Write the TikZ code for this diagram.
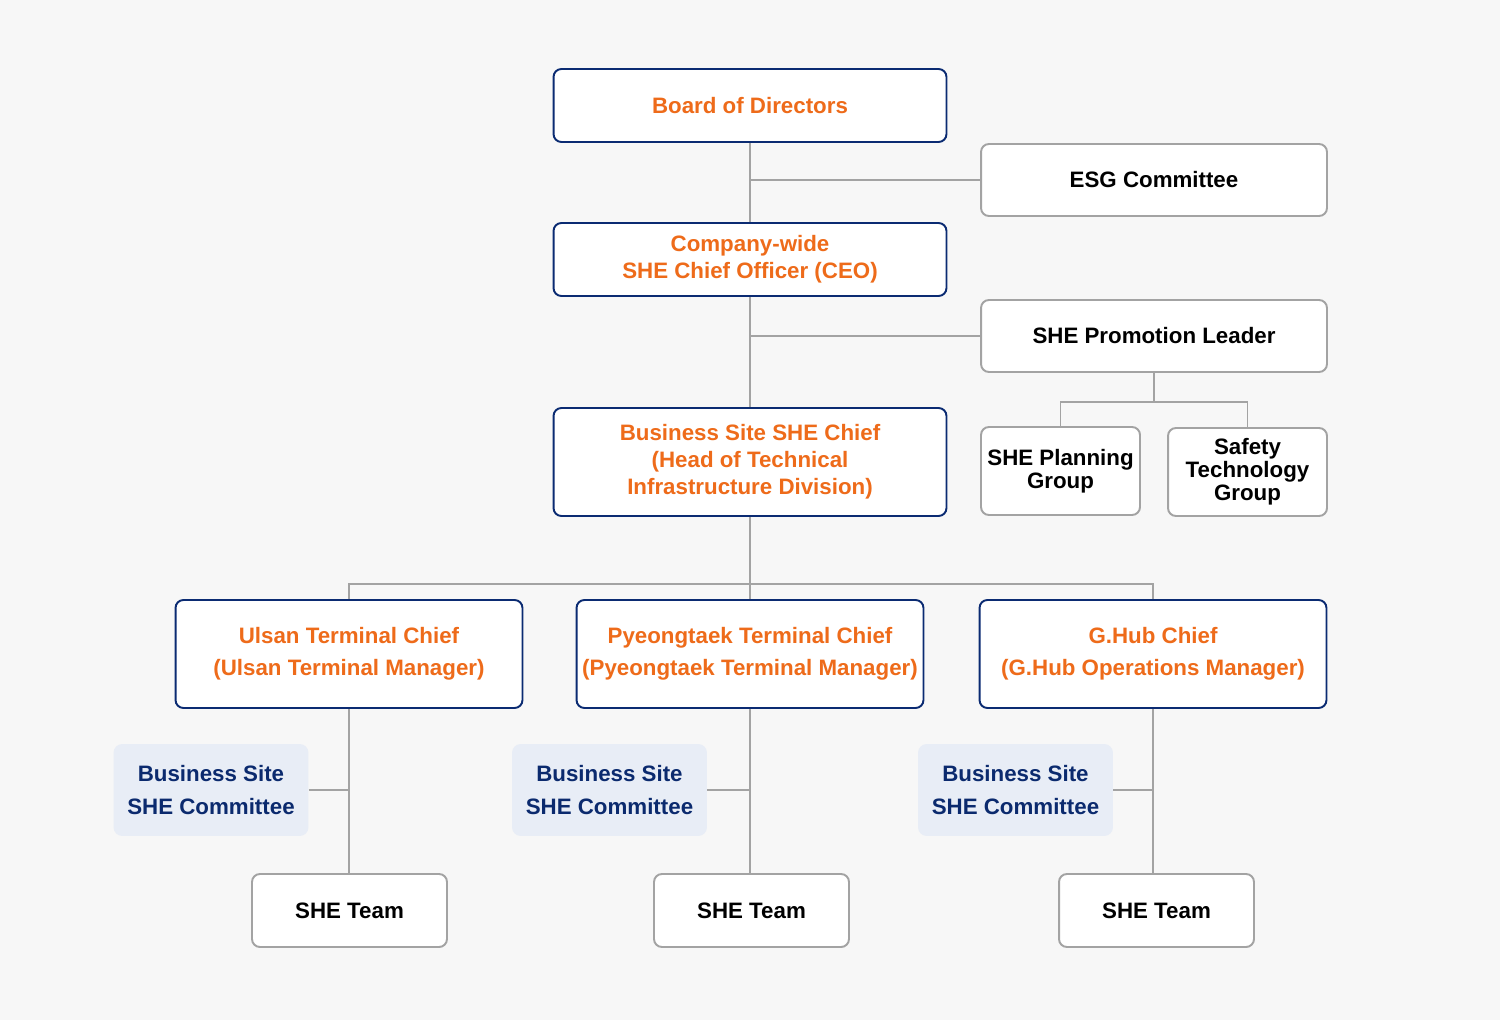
\documentclass[tikz,border=0pt]{standalone}
\usepackage{fontspec}
\setmainfont{Liberation Sans}
\usepackage{tikz}
\usetikzlibrary{positioning}

\definecolor{bgcol}{HTML}{F7F7F7}
\definecolor{navyline}{HTML}{0B2B72}
\definecolor{orangetxt}{HTML}{EE6B1A}
\definecolor{grayline}{HTML}{A3A3A3}
\definecolor{commfill}{HTML}{E8EDF6}
\definecolor{navytxt}{HTML}{0B2A6E}

\begin{document}
\begin{tikzpicture}[
    x=0.02cm, y=-0.02cm,
    chiefbox/.style={draw=navyline, line width=1.1pt, rounded corners=4.5pt, fill=white, text=orangetxt, align=center, inner sep=0pt, font=\bfseries\fontsize{12.7}{15.3}\selectfont},
    sidebox/.style={draw=grayline, line width=1.1pt, rounded corners=4.5pt, fill=white, text=black, align=center, inner sep=0pt, font=\bfseries\fontsize{12.7}{13}\selectfont},
    commbox/.style={fill=commfill, rounded corners=5pt, text=navytxt, align=center, inner sep=0pt, minimum width=3.9cm, minimum height=1.84cm, font=\bfseries\fontsize{12.7}{18.7}\selectfont},
    teambox/.style={sidebox, minimum width=3.9cm, minimum height=1.46cm},
    termbox/.style={chiefbox, minimum width=6.94cm, minimum height=2.16cm, font=\bfseries\fontsize{12.7}{18.3}\selectfont},
    link/.style={draw=grayline, line width=1.1pt}
]
\fill[bgcol] (0,0) rectangle (1500,1020);
\useasboundingbox (0,0) rectangle (1500,1020);

% top of the chart
\node[chiefbox, minimum width=7.86cm, minimum height=1.46cm] (board) at (750,105.5) {Board of Directors};
\node[chiefbox, minimum width=7.86cm, minimum height=1.46cm] (ceo) at (750,259.5) {Company-wide\\SHE Chief Officer (CEO)};
\node[chiefbox, minimum width=7.86cm, minimum height=2.16cm] (sitechief) at (750,462) {Business Site SHE Chief\\(Head of Technical\\Infrastructure Division)};

% side boxes
\node[sidebox, minimum width=6.92cm, minimum height=1.44cm] (esg) at (1154,180) {ESG Committee};
\node[sidebox, minimum width=6.92cm, minimum height=1.44cm] (promo) at (1154,336) {SHE Promotion Leader};
\node[sidebox, minimum width=3.18cm, minimum height=1.76cm] (planning) at (1060.5,471) {SHE Planning\\Group};
\node[sidebox, minimum width=3.18cm, minimum height=1.76cm] (safety) at (1247.5,472) {Safety\\Technology\\Group};

% terminals
\node[termbox] (ulsan) at (349,654) {Ulsan Terminal Chief\\(Ulsan Terminal Manager)};
\node[termbox] (pyeong) at (750,654) {Pyeongtaek Terminal Chief\\(Pyeongtaek Terminal Manager)};
\node[termbox] (ghub) at (1153,654) {G.Hub Chief\\(G.Hub Operations Manager)};

% committees and teams
\node[commbox] (commA) at (211,790) {Business Site\\SHE Committee};
\node[commbox] (commB) at (609.5,790) {Business Site\\SHE Committee};
\node[commbox] (commC) at (1015.5,790) {Business Site\\SHE Committee};
\node[teambox] (teamA) at (349.5,910.5) {SHE Team};
\node[teambox] (teamB) at (751.5,910.5) {SHE Team};
\node[teambox] (teamC) at (1156.5,910.5) {SHE Team};

% connectors
\draw[link] (board.south) -- (ceo.north);
\draw[link] (ceo.south) -- (sitechief.north);
\draw[link] (esg.west) -- (esg.west -| board.south);
\draw[link] (promo.west) -- (promo.west -| ceo.south);
\draw[link] (promo.south) -- ++(0,29) coordinate (pj);
\draw[link] (planning.north) |- (pj) -| (safety.north);
\draw[link] (sitechief.south) -- ++(0,67) coordinate (tj);
\draw[link] (ulsan.north) |- (tj) -| (ghub.north);
\draw[link] (tj) -- (tj |- pyeong.north);
\draw[link] (ulsan.south) -- (ulsan.south |- teamA.north);
\draw[link] (pyeong.south) -- (pyeong.south |- teamB.north);
\draw[link] (ghub.south) -- (ghub.south |- teamC.north);
\draw[link] (commA.east) -- (commA.east -| ulsan.south);
\draw[link] (commB.east) -- (commB.east -| pyeong.south);
\draw[link] (commC.east) -- (commC.east -| ghub.south);
\end{tikzpicture}
\end{document}
